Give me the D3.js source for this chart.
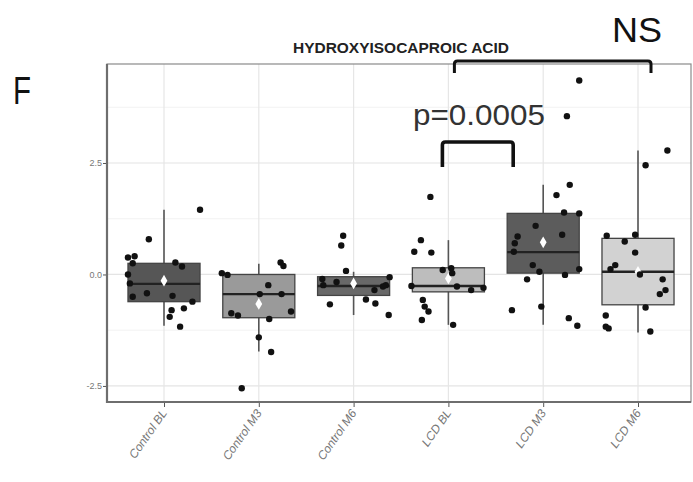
<!DOCTYPE html>
<html>
<head>
<meta charset="utf-8">
<script src="https://cdn.jsdelivr.net/npm/d3@7"></script>
<style>
  body { margin: 0; background: #fff; }
  svg { display: block; }
</style>
</head>
<body>
<svg id="chart" width="693" height="482"></svg>
<script>
var categories = ["Control BL", "Control M3", "Control M6", "LCD BL", "LCD M3", "LCD M6"];
var boxFill = ["#565656", "#9a9a9a", "#686868", "#bdbdbd", "#5c5c5c", "#d2d2d2"];

// box stats
var q1     = [-0.61, -0.97, -0.47, -0.39, 0.03, -0.68];
var median = [-0.21, -0.44, -0.26, -0.26, 0.50, 0.06];
var q3     = [0.25, 0.00, -0.05, 0.15, 1.37, 0.81];
var whiskLo = [-1.15, -1.73, -0.91, -1.13, -1.13, -1.30];
var whiskHi = [1.45, 0.24, 0.06, 0.77, 2.01, 2.78];
var means  = [-0.14, -0.66, -0.20, -0.09, 0.72, 0.06];

// individual points: value and jitter (in category units)
var ptsControlBL = [1.45, 0.79, 0.38, 0.41, 0.25, 0.27, 0.18, 0.0, -0.2, -0.5, -0.42, -0.48, -0.61, -0.76, -0.8, -0.95, -1.17];
var jitControlBL = [0.38, -0.16, -0.38, -0.31, -0.33, 0.12, 0.19, -0.38, -0.36, -0.33, -0.18, 0.09, 0.30, 0.21, 0.08, 0.06, 0.17];
var ptsControlM3 = [0.27, 0.19, 0.03, -0.01, -0.24, -0.44, -0.44, -0.83, -0.87, -0.92, -1.0, -1.41, -1.74, -2.55];
var jitControlM3 = [0.23, 0.26, -0.39, -0.33, 0.10, 0.01, 0.24, 0.34, -0.29, -0.22, 0.11, 0.0, 0.13, -0.18];
var ptsControlM6 = [0.87, 0.65, 0.08, -0.06, -0.1, -0.17, -0.24, -0.24, -0.27, -0.35, -0.56, -0.65, -0.67, -0.91];
var jitControlM6 = [-0.11, -0.13, -0.08, 0.38, -0.33, -0.18, -0.32, 0.34, 0.31, 0.22, 0.13, 0.23, -0.25, 0.37];
var ptsLcdBL = [1.74, 0.77, 0.51, 0.49, 0.1, 0.14, 0.03, -0.26, -0.27, -0.35, -0.3, -0.57, -0.72, -0.83, -1.02, -1.13];
var jitLcdBL = [-0.19, -0.29, -0.36, -0.18, -0.06, 0.03, 0.04, -0.39, 0.09, 0.24, 0.37, -0.27, -0.25, -0.21, -0.28, 0.05];
var ptsLcdM3 = [4.35, 3.55, 2.01, 1.78, 1.39, 1.37, 1.09, 0.89, 0.85, 0.7, 0.51, 0.21, 0.06, -0.01, 0.12, -0.11, -0.8, -0.72, -0.98, -1.15];
var jitLcdM3 = [0.38, 0.25, 0.28, 0.14, 0.22, 0.38, -0.08, 0.20, -0.27, -0.30, -0.31, -0.11, -0.04, 0.23, 0.38, -0.17, -0.33, -0.02, 0.27, 0.36];
var ptsLcdM6 = [2.78, 2.45, 0.87, 0.89, 0.74, 0.49, 0.21, 0.12, 0.0, -0.11, -0.35, -0.44, -0.74, -0.92, -1.17, -1.21, -1.28];
var jitLcdM6 = [0.31, 0.08, -0.33, -0.03, -0.14, -0.03, -0.24, -0.29, 0.02, 0.26, 0.29, 0.23, 0.08, -0.34, -0.34, -0.31, 0.13];

var allPts = [ptsControlBL, ptsControlM3, ptsControlM6, ptsLcdBL, ptsLcdM3, ptsLcdM6];
var allJit = [jitControlBL, jitControlM3, jitControlM6, jitLcdBL, jitLcdM3, jitLcdM6];

var yTicks = [-2.5, 0, 2.5];
var yMinor = [-1.25, 1.25, 3.75];
var yTickLabels = ["-2.5", "0.0", "2.5"];

var title = "HYDROXYISOCAPROIC ACID";
var panelLetter = "F";
var pLabel = "p=0.0005";
var nsLabel = "NS";

var svg = d3.select("#chart");
var pLeft = 107, pRight = 691, pTop = 64, pBottom = 402;

var x = d3.scalePoint().domain(categories).range([164, 638]);
var y = d3.scaleLinear().domain([-2.86, 4.72]).range([pBottom, pTop]);
var step = x.step();
var boxW = step * 0.76;

// panel background + grid
svg.append("rect").attr("x", pLeft).attr("y", pTop).attr("width", pRight - pLeft).attr("height", pBottom - pTop)
  .attr("fill", "#fff");

svg.selectAll(".minor").data(yMinor).enter().append("line")
  .attr("x1", pLeft).attr("x2", pRight)
  .attr("y1", function(d) { return y(d); }).attr("y2", function(d) { return y(d); })
  .attr("stroke", "#f2f2f2").attr("stroke-width", 1);
svg.selectAll(".major").data(yTicks).enter().append("line")
  .attr("x1", pLeft).attr("x2", pRight)
  .attr("y1", function(d) { return y(d); }).attr("y2", function(d) { return y(d); })
  .attr("stroke", "#e4e4e4").attr("stroke-width", 1.2);
svg.selectAll(".vgrid").data(categories).enter().append("line")
  .attr("x1", function(d) { return x(d); }).attr("x2", function(d) { return x(d); })
  .attr("y1", pTop).attr("y2", pBottom)
  .attr("stroke", "#e6e6e6").attr("stroke-width", 1.2);

// panel border
svg.append("rect").attr("x", pLeft).attr("y", pTop).attr("width", pRight - pLeft).attr("height", pBottom - pTop)
  .attr("fill", "none").attr("stroke", "#8a8a8a").attr("stroke-width", 1.2);

// boxes
var groups = svg.selectAll(".grp").data(categories).enter().append("g");

groups.append("line")
  .attr("x1", function(d) { return x(d); }).attr("x2", function(d) { return x(d); })
  .attr("y1", function(d, i) { return y(whiskHi[i]); })
  .attr("y2", function(d, i) { return y(whiskLo[i]); })
  .attr("stroke", "#555").attr("stroke-width", 1.6);

groups.append("rect")
  .attr("x", function(d) { return x(d) - boxW / 2; })
  .attr("width", boxW)
  .attr("y", function(d, i) { return y(q3[i]); })
  .attr("height", function(d, i) { return y(q1[i]) - y(q3[i]); })
  .attr("fill", function(d, i) { return boxFill[i]; })
  .attr("stroke", "#444").attr("stroke-width", 1.3);

groups.append("line")
  .attr("x1", function(d) { return x(d) - boxW / 2; })
  .attr("x2", function(d) { return x(d) + boxW / 2; })
  .attr("y1", function(d, i) { return y(median[i]); })
  .attr("y2", function(d, i) { return y(median[i]); })
  .attr("stroke", "#222").attr("stroke-width", 2.4);

// mean diamonds
var diamond = d3.symbol().type(d3.symbolDiamond).size(40);
svg.selectAll(".mean").data(categories).enter().append("path")
  .attr("d", diamond)
  .attr("transform", function(d, i) { return "translate(" + x(d) + "," + y(means[i]) + ")"; })
  .attr("fill", "#fff");

// jittered points
categories.forEach(function(cat, i) {
  var rows = allPts[i].map(function(v, j) { return { v: v, j: allJit[i][j] }; });
  svg.selectAll(".pt" + i).data(rows).enter().append("circle")
    .attr("cx", function(d) { return x(cat) + d.j * step; })
    .attr("cy", function(d) { return y(d.v); })
    .attr("r", 3.2)
    .attr("fill", "#111");
});

// axes
svg.append("line").attr("x1", pLeft).attr("x2", pLeft).attr("y1", pTop).attr("y2", pBottom + 1)
  .attr("stroke", "#6e6e6e").attr("stroke-width", 2.2);
svg.append("line").attr("x1", pLeft - 1).attr("x2", pRight).attr("y1", pBottom).attr("y2", pBottom)
  .attr("stroke", "#6e6e6e").attr("stroke-width", 2.2);

var yAxis = d3.axisLeft(y).tickValues(yTicks).tickSize(3)
  .tickFormat(function(d, i) { return yTickLabels[i]; });
var yg = svg.append("g").attr("transform", "translate(" + (pLeft - 1) + ",0)").call(yAxis);
yg.select(".domain").remove();
yg.selectAll("line").attr("stroke", "#555");
yg.selectAll("text").attr("fill", "#777").attr("font-size", "9px")
  .attr("font-family", "Liberation Sans, sans-serif").attr("x", -4);

var xAxis = d3.axisBottom(x).tickSize(4).tickSizeOuter(0);
var xg = svg.append("g").attr("transform", "translate(0," + (pBottom + 1) + ")").call(xAxis);
xg.select(".domain").remove();
xg.selectAll("line").attr("stroke", "#555");
xg.selectAll("text")
  .attr("fill", "#777").attr("font-size", "12px").attr("font-style", "italic")
  .attr("font-family", "Liberation Sans, sans-serif")
  .attr("text-anchor", "end").attr("dy", null).attr("y", 0)
  .attr("transform", "translate(3,10) rotate(-55)");

// title
svg.append("text").attr("x", 401).attr("y", 53).attr("text-anchor", "middle")
  .attr("font-family", "Liberation Sans, sans-serif")
  .attr("font-weight", "bold").attr("font-size", "15px").attr("fill", "#222")
  .attr("textLength", 216).attr("lengthAdjust", "spacingAndGlyphs")
  .text(title);

svg.append("text").attr("x", 13).attr("y", 104)
  .attr("font-family", "Liberation Sans, sans-serif").attr("font-size", "38px").attr("fill", "#111")
  .attr("textLength", 18).attr("lengthAdjust", "spacingAndGlyphs")
  .text(panelLetter);

svg.append("text").attr("x", 612).attr("y", 42)
  .attr("font-family", "Liberation Sans, sans-serif").attr("font-size", "35px").attr("fill", "#111")
  .attr("textLength", 50).attr("lengthAdjust", "spacingAndGlyphs")
  .text(nsLabel);

svg.append("text").attr("x", 413).attr("y", 125)
  .attr("font-family", "Liberation Sans, sans-serif").attr("font-size", "30px").attr("fill", "#333")
  .attr("textLength", 132).attr("lengthAdjust", "spacingAndGlyphs")
  .text(pLabel);

// significance brackets (between LCD groups)
function bracket(x1, x2, yTop, yLeg, w) {
  var r = 3;
  var p = d3.path();
  p.moveTo(x1, yLeg);
  p.lineTo(x1, yTop + r);
  p.quadraticCurveTo(x1, yTop, x1 + r, yTop);
  p.lineTo(x2 - r, yTop);
  p.quadraticCurveTo(x2, yTop, x2, yTop + r);
  p.lineTo(x2, yLeg);
  svg.append("path").attr("d", p.toString())
    .attr("fill", "none").attr("stroke", "#111").attr("stroke-width", w);
}
bracket(x("LCD BL") - 6, x("LCD M3") - 30, 142, 167, 3.6);
bracket(x("LCD BL") + 6, x("LCD M6") + 13, 61, 73, 3);
</script>
</body>
</html>
